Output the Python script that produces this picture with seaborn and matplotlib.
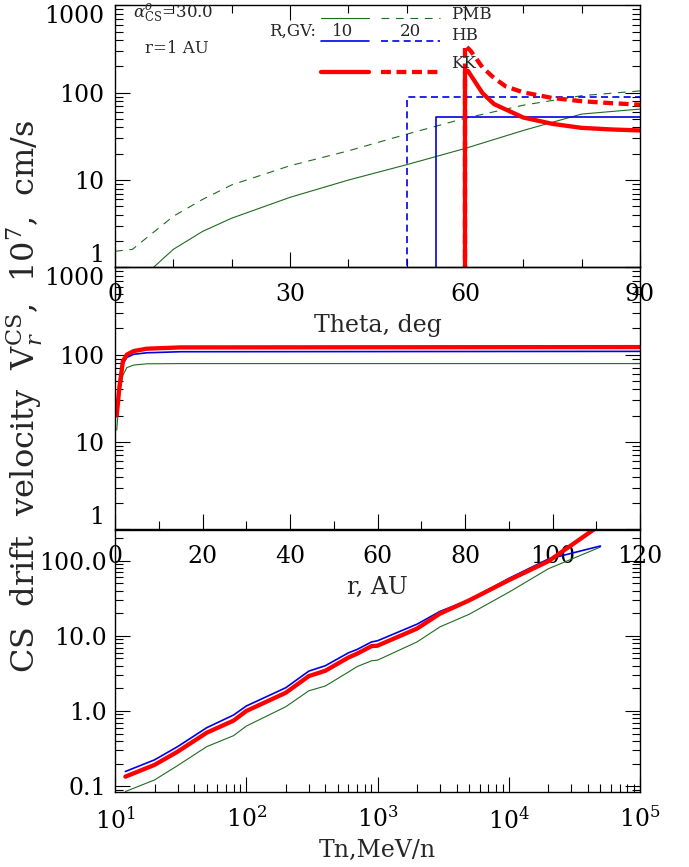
import numpy as np
import matplotlib
matplotlib.use("Agg")
import matplotlib.pyplot as plt
import seaborn as sns
from matplotlib.ticker import MultipleLocator, LogLocator, FormatStrFormatter, NullFormatter

# ---- panel 1: velocity vs heliolatitude theta at r = 1 AU
theta_pmb = [0, 3, 5, 10, 15, 20, 30, 40, 50, 60, 70, 80, 90]
pmb_10gv = [0.3, 0.55, 0.8, 1.61, 2.58, 3.66, 6.34, 10.0, 15.0, 23.0, 37.0, 57.0, 65.0]
pmb_20gv = [1.53, 1.61, 2.07, 3.85, 6.0, 8.8, 14.6, 21.6, 33.5, 51.0, 72.0, 92.5, 105.0]

theta_hb10 = [0, 55, 55, 90]
hb_10gv = [0, 0, 52.4, 52.4]
theta_hb20 = [0, 50, 50, 90]
hb_20gv = [0, 0, 89.0, 89.0]

theta_kk10 = [0, 60, 60, 60.5, 63, 65, 70, 75, 80, 85, 90]
kk_10gv = [0, 0, 170, 178, 99, 74, 52, 44, 39.6, 38, 37]
theta_kk20 = [0, 60, 60, 61, 63, 65, 67, 70, 75, 80, 85, 90]
kk_20gv = [0, 0, 351, 300, 195, 147, 118, 101, 87, 80, 76, 73]

# ---- panel 2: velocity vs radial distance
r_au = [0.4, 1.0, 1.8, 2.7, 4.3, 7.3, 15, 120]
vr_pmb = [13.7, 34, 58, 71, 76, 78.5, 79, 79]
vr_hb = [19.5, 40, 78, 93, 101, 105, 108, 109]
vr_kk = [20.3, 42, 84, 100, 110, 117, 121, 122]

# ---- panel 3: velocity vs kinetic energy per nucleon
tn_mev = [12, 20, 30, 50, 80, 100, 200, 300, 400, 600, 700, 900, 1000,
          2000, 3000, 5000, 10000, 20000, 50000]
vt_pmb = [0.085, 0.121, 0.188, 0.336, 0.47, 0.63, 1.14, 1.86, 2.15, 3.3, 3.9,
          4.66, 4.75, 8.3, 13.2, 19.4, 38, 78, 152]
vt_hb = [0.157, 0.224, 0.336, 0.60, 0.885, 1.165, 2.04, 3.4, 4.0, 5.94, 6.6,
         8.3, 8.6, 14.3, 21.2, 30, 58, 105, 157]
vt_kk = [0.134, 0.192, 0.288, 0.515, 0.745, 1.0, 1.75, 2.92, 3.43, 5.15, 5.8,
         7.3, 7.4, 12.5, 19.8, 29.7, 55, 98, 300]

GREEN = "#1f6b1f"
BLUE = "#0000e6"
RED = "#ff0000"
G_DASH = (0, (7, 6))
B_DASH = (0, (4.2, 2.6))
R_DASH = (0, (2.3, 1.3))

sns.set_style("ticks")
plt.rcParams["font.family"] = ["DejaVu Serif"]
plt.rcParams["mathtext.fontset"] = "dejavuserif"
plt.rcParams["axes.linewidth"] = 1.0


def floor(v):
    # zero velocity can't go on a log axis: push it below the frame
    v = np.asarray(v, dtype=float)
    return np.where(v > 0, v, 1e-3)


def line(ax, x, y, color, lw, ls="-"):
    sns.lineplot(x=x, y=floor(y), ax=ax, color=color, linewidth=lw,
                 linestyle=ls, estimator=None, sort=False)


fig = plt.figure(figsize=(6.89, 8.67), dpi=100)
W, H = 689, 867
left, right = 115, 640
tops = [5.4, 267.3, 529.5]
ph = 262
axes = []
for t in tops:
    ax = fig.add_axes([left / W, 1 - (t + ph) / H, (right - left) / W, ph / H])
    ax.set_facecolor("none")
    axes.append(ax)
ax1, ax2, ax3 = axes

# panel 1
line(ax1, theta_pmb, pmb_10gv, GREEN, 0.8)
line(ax1, theta_pmb, pmb_20gv, GREEN, 0.8, G_DASH)
line(ax1, theta_hb10, hb_10gv, BLUE, 1.2)
line(ax1, theta_hb20, hb_20gv, BLUE, 1.2, B_DASH)
line(ax1, theta_kk10, kk_10gv, RED, 3.1)
line(ax1, theta_kk20, kk_20gv, RED, 3.1, R_DASH)
ax1.set_yscale("log")
ax1.set_xlim(0, 90)
ax1.set_ylim(1, 1000)
ax1.xaxis.set_major_locator(MultipleLocator(30))
ax1.xaxis.set_minor_locator(MultipleLocator(10))
ax1.set_xlabel("Theta, deg", fontsize=17, labelpad=6)

# legend drawn by hand, as in the original
tr = ax1.transAxes
fs = 12
ax1.text(0.034, 0.967, r"$\alpha^{o}_{\rm CS}$=30.0", transform=tr, fontsize=fs, va="center")
ax1.text(0.057, 0.837, "r=1 AU", transform=tr, fontsize=fs, va="center")
ax1.text(0.293, 0.902, "R,GV:", transform=tr, fontsize=fs, va="center")
ax1.text(0.413, 0.902, "10", transform=tr, fontsize=fs, va="center")
ax1.text(0.542, 0.902, "20", transform=tr, fontsize=fs, va="center")
keys = [(0.951, GREEN, 0.8, G_DASH, "PMB", 0.967),
        (0.865, BLUE, 1.2, B_DASH, "HB", 0.887),
        (0.747, RED, 3.1, R_DASH, "KK", 0.778)]
for yk, c, lw, ls, name, yt in keys:
    ax1.plot([0.393, 0.483], [yk, yk], transform=tr, color=c, lw=lw)
    ax1.plot([0.507, 0.619], [yk, yk], transform=tr, color=c, lw=lw, ls=ls)
    ax1.text(0.64, yt, name, transform=tr, fontsize=fs, va="center")

# panel 2
line(ax2, r_au, vr_pmb, GREEN, 0.8)
line(ax2, r_au, vr_hb, BLUE, 1.2)
line(ax2, r_au, vr_kk, RED, 3.1)
ax2.set_yscale("log")
ax2.set_xlim(0, 120)
ax2.set_ylim(1, 1000)
ax2.xaxis.set_major_locator(MultipleLocator(20))
ax2.xaxis.set_minor_locator(MultipleLocator(10))
ax2.set_xlabel("r, AU", fontsize=17, labelpad=6)

# panel 3
line(ax3, tn_mev, vt_pmb, GREEN, 0.8)
line(ax3, tn_mev, vt_hb, BLUE, 1.2)
line(ax3, tn_mev, vt_kk, RED, 3.1)
ax3.set_xscale("log")
ax3.set_yscale("log")
ax3.set_xlim(10, 1e5)
ax3.set_ylim(0.085, 260)
ax3.xaxis.set_major_locator(LogLocator(base=10))
ax3.xaxis.set_minor_locator(LogLocator(base=10, subs=np.arange(2, 10)))
ax3.xaxis.set_minor_formatter(NullFormatter())
ax3.set_xlabel("Tn,MeV/n", fontsize=17, labelpad=4)
ax3.yaxis.set_major_formatter(FormatStrFormatter("%.1f"))

for i, ax in enumerate(axes):
    ax.set_ylabel("")
    ax.yaxis.set_minor_locator(LogLocator(base=10, subs=np.arange(2, 10)))
    ax.yaxis.set_minor_formatter(NullFormatter())
    ax.tick_params(which="both", direction="in", top=(i == 0), right=True,
                   labelsize=17, width=0.8, colors="black")
    ax.tick_params(which="major", length=11, pad=8)
    ax.tick_params(which="minor", length=5.5)
    ax.tick_params(axis="x", which="major", pad=11)
    for s in ax.spines.values():
        s.set_visible(True)
        s.set_color("black")
ax3.tick_params(axis="y", which="major", pad=6)

for ax in (ax1, ax2):
    ax.set_yticks([1, 10, 100, 1000])
    ax.yaxis.set_major_formatter(FormatStrFormatter("%d"))
    labs = ax.get_yticklabels()
    labs[0].set_va("bottom")
    labs[-1].set_va("top")

fig.text(25 / W, 1 - 396 / H,
         r"CS  drift  velocity  $\mathrm{V}_r^{\mathrm{CS}}$,  10$^7$,  cm/s",
         rotation=90, ha="center", va="center", fontsize=23)

fig.savefig("out.png", dpi=100)
